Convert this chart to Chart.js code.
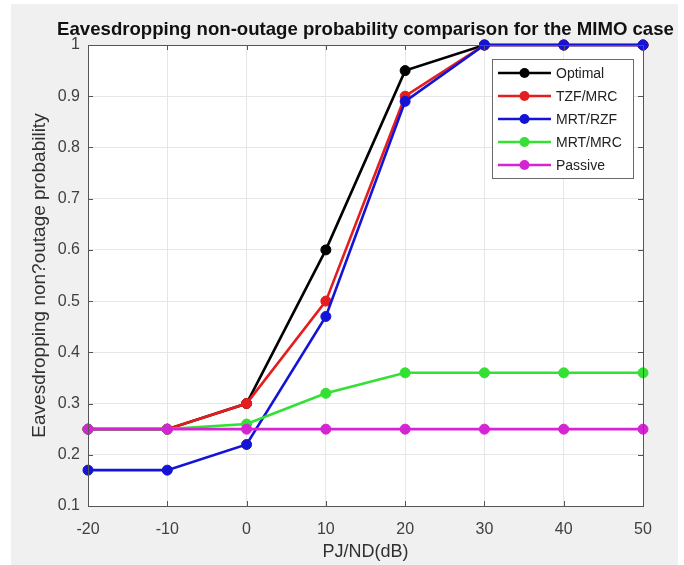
<!DOCTYPE html>
<html lang="en">
<head>
    <meta charset="UTF-8">
    <title>Eavesdropping non-outage probability</title>
    <script src="https://cdn.jsdelivr.net/npm/chart.js"></script>
    <style>
        body { margin: 0; background: #ffffff; }
        #grafico { display: block; }
    </style>
</head>
<body>
    <canvas id="grafico" width="684" height="565"></canvas>

<script>

    // valores
    var xValues = [-20, -10, 0, 10, 20, 30, 40, 50];
    var yTicks = [0.1, 0.2, 0.3, 0.4, 0.5, 0.6, 0.7, 0.8, 0.9, 1];

    var seriesNames = ['Optimal', 'TZF/MRC', 'MRT/RZF', 'MRT/MRC', 'Passive'];
    var seriesColors = ['#000000', '#e41e1e', '#1414d6', '#33e033', '#d424d4'];

    var optimal = [0.25, 0.25, 0.30, 0.60, 0.95, 1, 1, 1];
    var tzfMrc  = [0.25, 0.25, 0.30, 0.50, 0.90, 1, 1, 1];
    var mrtRzf  = [0.17, 0.17, 0.22, 0.47, 0.89, 1, 1, 1];
    var mrtMrc  = [0.25, 0.25, 0.26, 0.32, 0.36, 0.36, 0.36, 0.36];
    var passive = [0.25, 0.25, 0.25, 0.25, 0.25, 0.25, 0.25, 0.25];

    var seriesValues = [optimal, tzfMrc, mrtRzf, mrtMrc, passive];

    var titulo = 'Eavesdropping non-outage probability comparison for the MIMO case';

    var datasets = [];
    for (var i = 0; i < seriesNames.length; i++) {
        var pontos = [];
        for (var j = 0; j < xValues.length; j++) {
            pontos.push({ x: xValues[j], y: seriesValues[i][j] });
        }
        datasets.push({
            label: seriesNames[i],
            data: pontos,
            borderColor: seriesColors[i],
            backgroundColor: seriesColors[i],
            pointBackgroundColor: seriesColors[i],
            pointBorderColor: seriesColors[i],
            borderWidth: 2.6,
            pointRadius: 5,
            pointBorderWidth: 1,
            tension: 0,
            clip: false,
            // matlab desenha a ultima serie por cima
            order: seriesNames.length - i
        });
    }

    // fundo cinza da figura, caixa dos eixos, ticks internos, titulo
    var figuraPlugin = {
        id: 'figura',
        beforeDraw: function (chart) {
            var ctx = chart.ctx;
            var a = chart.chartArea;
            ctx.save();
            ctx.fillStyle = '#f0f0f0';
            ctx.fillRect(11, 4, 667, 561);
            ctx.fillStyle = '#ffffff';
            ctx.fillRect(a.left, a.top, a.right - a.left, a.bottom - a.top);
            ctx.restore();
        },
        afterDatasetsDraw: function (chart) {
            var ctx = chart.ctx;
            var a = chart.chartArea;
            var xs = chart.scales.x;
            var ys = chart.scales.y;
            ctx.save();
            ctx.strokeStyle = '#555555';
            ctx.lineWidth = 1;
            ctx.beginPath();
            for (var i = 0; i < xValues.length; i++) {
                var px = Math.round(xs.getPixelForValue(xValues[i])) + 0.5;
                ctx.moveTo(px, a.bottom);
                ctx.lineTo(px, a.bottom - 5);
                ctx.moveTo(px, a.top);
                ctx.lineTo(px, a.top + 5);
            }
            for (var k = 0; k < yTicks.length; k++) {
                var py = Math.round(ys.getPixelForValue(yTicks[k])) + 0.5;
                ctx.moveTo(a.left, py);
                ctx.lineTo(a.left + 5, py);
                ctx.moveTo(a.right, py);
                ctx.lineTo(a.right - 5, py);
            }
            ctx.stroke();
            ctx.strokeRect(a.left + 0.5, a.top + 0.5, a.right - a.left, a.bottom - a.top);

            ctx.fillStyle = '#111111';
            ctx.font = 'bold 18.6px "Liberation Sans", Arial, sans-serif';
            ctx.textAlign = 'center';
            ctx.textBaseline = 'alphabetic';
            ctx.fillText(titulo, (a.left + a.right) / 2, 35);
            ctx.restore();
        }
    };

    // legenda dentro da area do grafico, canto superior direito
    var legendaPlugin = {
        id: 'legendaInterna',
        afterDraw: function (chart) {
            var ctx = chart.ctx;
            var ds = chart.data.datasets;
            var x0 = 492, y0 = 59, w = 141, h = 119;
            ctx.save();
            ctx.fillStyle = '#ffffff';
            ctx.fillRect(x0, y0, w, h);
            ctx.strokeStyle = '#6a6a6a';
            ctx.lineWidth = 1;
            ctx.strokeRect(x0 + 0.5, y0 + 0.5, w, h);
            ctx.font = '14px "Liberation Sans", Arial, sans-serif';
            ctx.textAlign = 'left';
            ctx.textBaseline = 'middle';
            for (var i = 0; i < ds.length; i++) {
                var yy = 73 + i * 23;
                ctx.strokeStyle = ds[i].borderColor;
                ctx.lineWidth = 2.6;
                ctx.beginPath();
                ctx.moveTo(498, yy);
                ctx.lineTo(551, yy);
                ctx.stroke();
                ctx.fillStyle = ds[i].borderColor;
                ctx.beginPath();
                ctx.arc(524.5, yy, 5, 0, Math.PI * 2);
                ctx.fill();
                ctx.fillStyle = '#222222';
                ctx.fillText(ds[i].label, 556, yy + 1);
            }
            ctx.restore();
        }
    };

    var ctx = document.getElementById('grafico').getContext('2d');
    var myChart = new Chart(ctx, {
        type: 'line',
        data: {
            datasets: datasets
        },
        options: {
            responsive: false,
            animation: false,
            layout: {
                padding: { left: 0, right: 41, top: 45, bottom: 0 }
            },
            plugins: {
                legend: { display: false },
                title: { display: false },
                tooltip: { enabled: false }
            },
            scales: {
                x: {
                    type: 'linear',
                    min: -20,
                    max: 50,
                    afterFit: function (scale) { scale.height = 59; },
                    afterBuildTicks: function (scale) {
                        scale.ticks = xValues.map(function (v) { return { value: v }; });
                    },
                    grid: { color: '#e6e6e6', drawTicks: false },
                    border: { display: false },
                    ticks: {
                        padding: 14,
                        color: '#404040',
                        font: { family: '"Liberation Sans", Arial, sans-serif', size: 16 },
                        callback: function (v) { return String(v); }
                    },
                    title: {
                        display: true,
                        text: 'PJ/ND(dB)',
                        color: '#303030',
                        font: { family: '"Liberation Sans", Arial, sans-serif', size: 18 },
                        padding: { top: 0, bottom: 2.5 }
                    }
                },
                y: {
                    min: 0.1,
                    max: 1,
                    afterFit: function (scale) { scale.width = 88; },
                    afterBuildTicks: function (scale) {
                        scale.ticks = yTicks.map(function (v) { return { value: v }; });
                    },
                    grid: { color: '#e6e6e6', drawTicks: false },
                    border: { display: false },
                    ticks: {
                        padding: 8,
                        color: '#404040',
                        font: { family: '"Liberation Sans", Arial, sans-serif', size: 16 },
                        callback: function (v) { return String(+v.toFixed(1)); }
                    },
                    title: {
                        display: true,
                        text: 'Eavesdropping non?outage probability',
                        color: '#303030',
                        font: { family: '"Liberation Sans", Arial, sans-serif', size: 19 },
                        padding: { top: 28.5, bottom: 0 }
                    }
                }
            }
        },
        plugins: [figuraPlugin, legendaPlugin]
    });

</script>
</body>
</html>
